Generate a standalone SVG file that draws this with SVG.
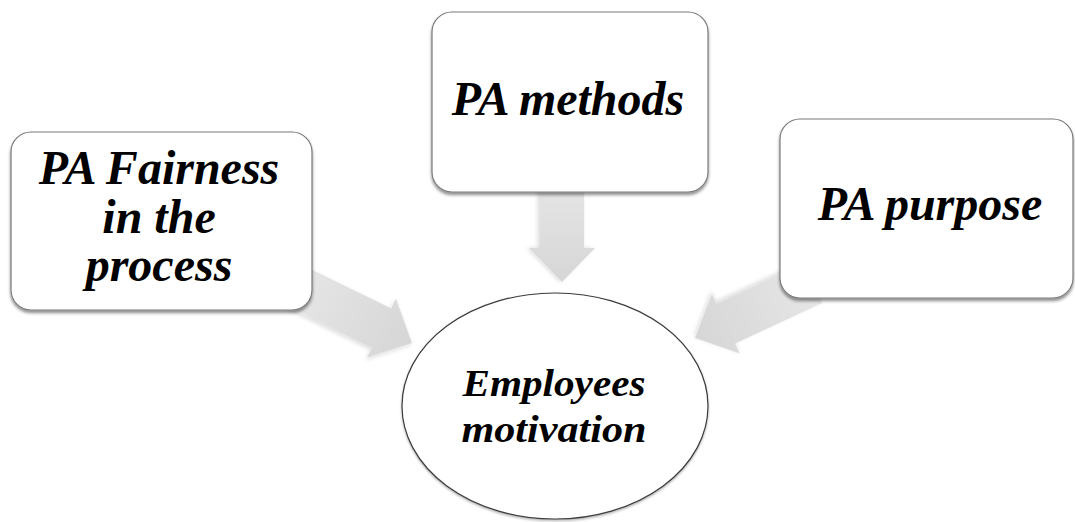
<svg xmlns="http://www.w3.org/2000/svg" width="1075" height="522" viewBox="0 0 1075 522">
  <style>
    .box { fill: #ffffff; stroke: #7a7a7a; stroke-width: 1.2; filter: url(#boxShadow); }
    .hub { fill: #ffffff; stroke: #3c3c3c; stroke-width: 1.2; filter: url(#hubShadow); }
    .arrow { fill: url(#arrowFill); filter: url(#arrowShadow); }
    .label { font-family: "Liberation Serif", "Times New Roman", serif; font-weight: bold; font-style: italic; fill: #000000; text-anchor: middle; }
    .big { font-size: 48px; }
    .mid { font-size: 38px; }
  </style>
  <defs>
    <linearGradient id="arrowFill" x1="0" y1="0" x2="1" y2="0">
      <stop offset="0" stop-color="#e6e6e6"/>
      <stop offset="1" stop-color="#d6d6d6"/>
    </linearGradient>
    <filter id="boxShadow" x="-10%" y="-10%" width="120%" height="125%">
      <feDropShadow dx="0" dy="2.5" stdDeviation="1.8" flood-color="#000000" flood-opacity="0.45"/>
    </filter>
    <filter id="hubShadow" x="-10%" y="-10%" width="120%" height="125%">
      <feDropShadow dx="0" dy="1.5" stdDeviation="1.2" flood-color="#000000" flood-opacity="0.3"/>
    </filter>
    <filter id="arrowShadow" x="-20%" y="-30%" width="140%" height="160%">
      <feDropShadow dx="0" dy="2" stdDeviation="2" flood-color="#000000" flood-opacity="0.15"/>
    </filter>
  </defs>

  <!-- connectors: block arrows, tip at local origin pointing +x -->
  <g id="connectors">
    <polygon class="arrow" transform="translate(562,282) rotate(90)" points="-100,-22 -34,-22 -34,-33 0,0 -34,33 -34,22 -100,22"/>
    <polygon class="arrow" transform="translate(412,343) rotate(26)" points="-130,-22 -34,-22 -34,-33 0,0 -34,33 -34,22 -130,22"/>
    <polygon class="arrow" transform="translate(695,338) rotate(155)" points="-130,-22 -34,-22 -34,-33 0,0 -34,33 -34,22 -130,22"/>
  </g>

  <g id="node-fairness">
    <rect class="box" x="11" y="132" width="301" height="178" rx="20" ry="20"/>
    <text class="label big" x="159" y="184">PA Fairness</text>
    <text class="label big" x="159" y="233">in the</text>
    <text class="label big" x="159" y="281">process</text>
  </g>

  <g id="node-methods">
    <rect class="box" x="432" y="12" width="276" height="180" rx="20" ry="20"/>
    <text class="label big" x="568" y="115">PA methods</text>
  </g>

  <g id="node-purpose">
    <rect class="box" x="780" y="119" width="293" height="179" rx="20" ry="20"/>
    <text class="label big" x="930" y="220">PA purpose</text>
  </g>

  <g id="node-motivation">
    <ellipse class="hub" cx="555" cy="406" rx="153" ry="113"/>
    <text class="label mid" x="554" y="396" textLength="183" lengthAdjust="spacingAndGlyphs">Employees</text>
    <text class="label mid" x="554" y="442" textLength="185" lengthAdjust="spacingAndGlyphs">motivation</text>
  </g>
</svg>
